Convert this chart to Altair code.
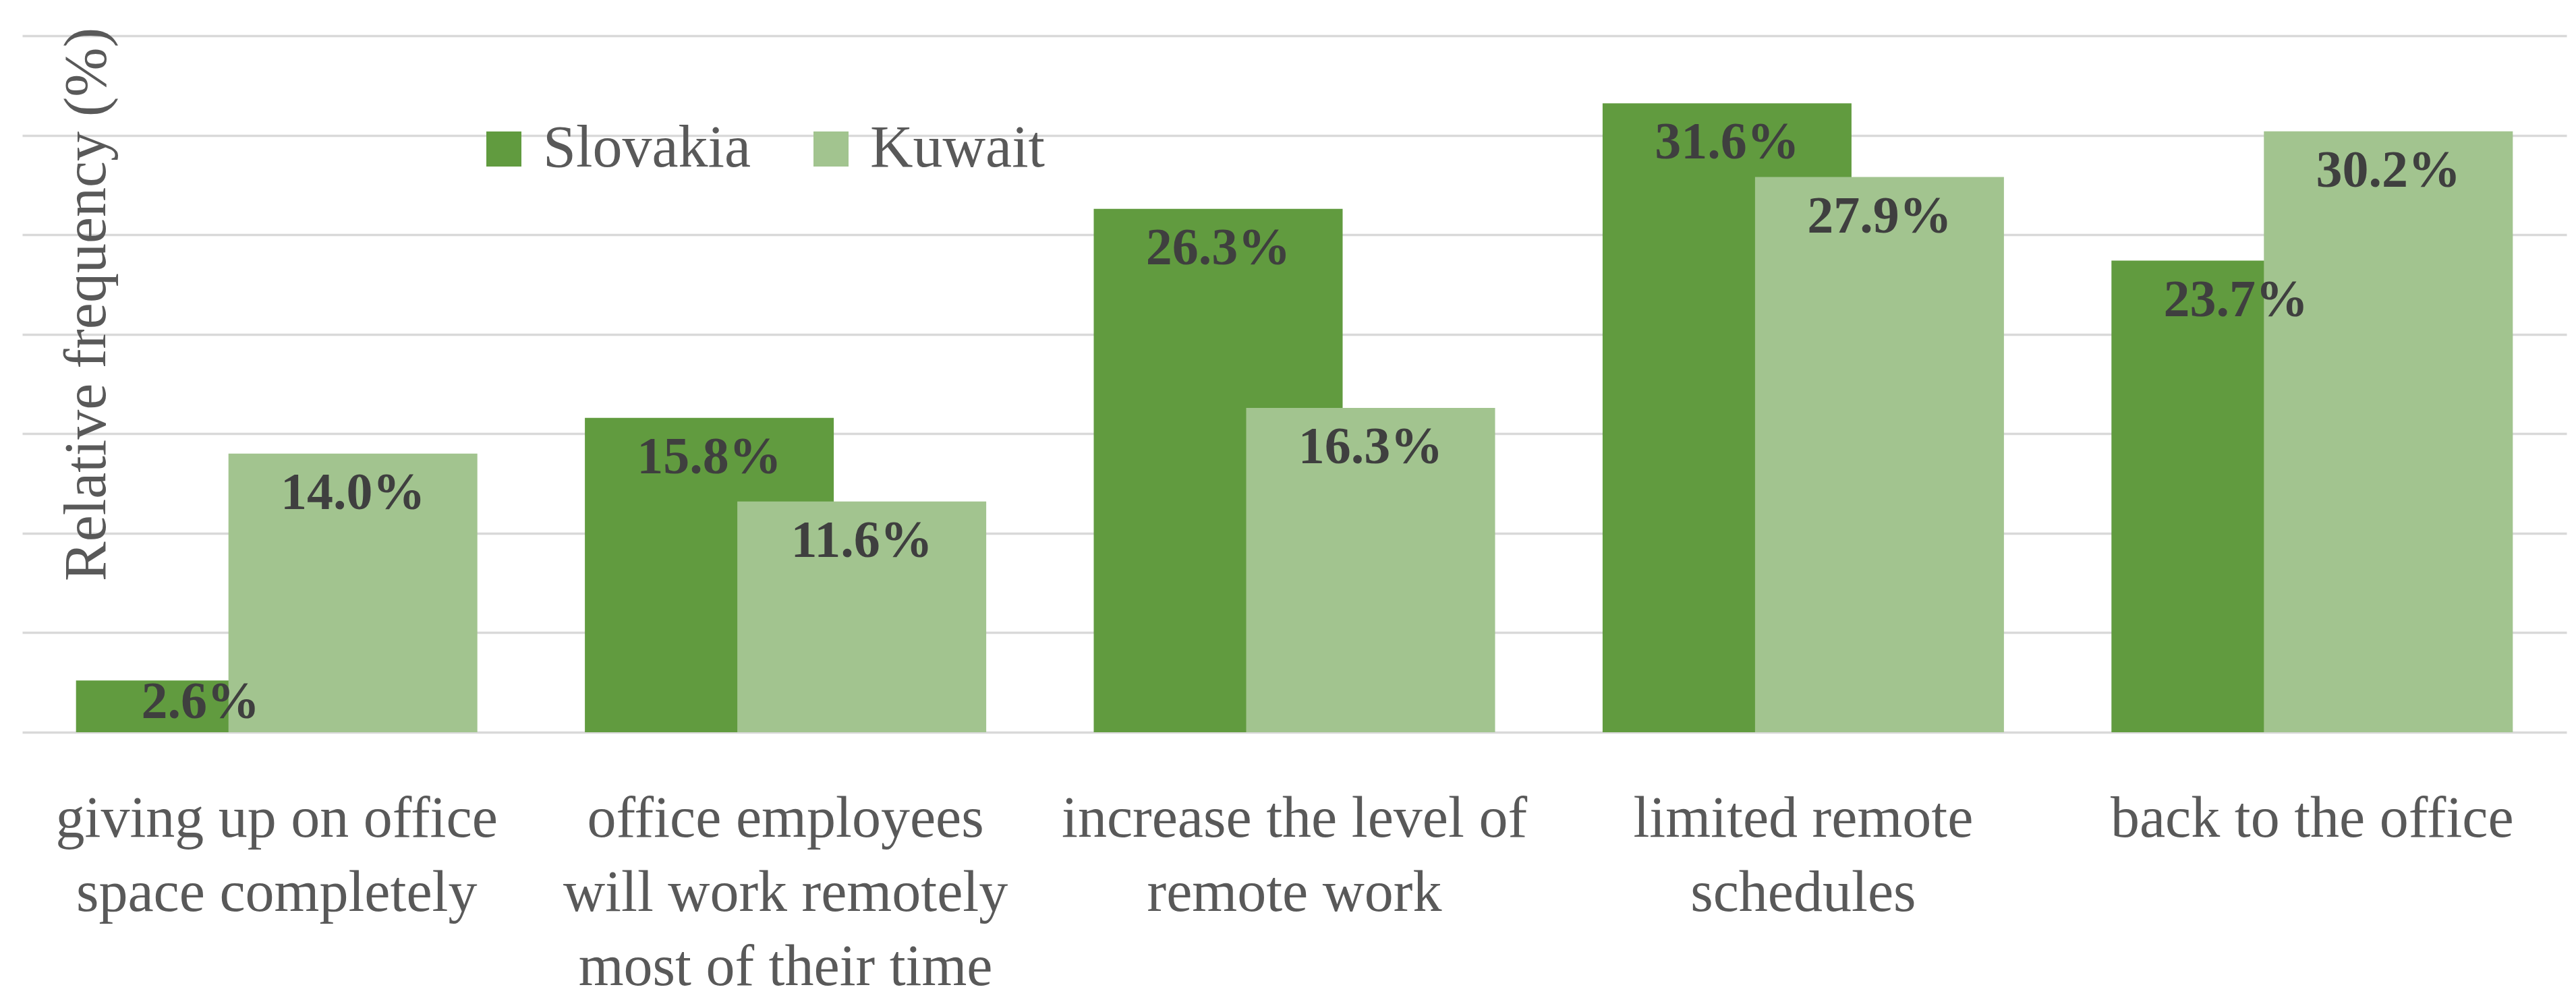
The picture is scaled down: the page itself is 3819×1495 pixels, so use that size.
import json
import altair as alt
import pandas as pd

categories = [
    "giving up on office space completely",
    "office employees will work remotely most of their time",
    "increase the level of remote work",
    "limited remote schedules",
    "back to the office",
]
label_lines = [
    ["giving up on office", "space completely"],
    ["office employees", "will work remotely", "most of their time"],
    ["increase the level of", "remote work"],
    ["limited remote", "schedules"],
    ["back to the office"],
]
series = ["Slovakia", "Kuwait"]
slovakia = [2.6, 15.8, 26.3, 31.6, 23.7]
kuwait = [14.0, 11.6, 16.3, 27.9, 30.2]
y_ticks = [0, 5, 10, 15, 20, 25, 30, 35]

rows = []
for c, s, k in zip(categories, slovakia, kuwait):
    rows.append({"category": c, "series": "Slovakia", "value": s})
    rows.append({"category": c, "series": "Kuwait", "value": k})
df = pd.DataFrame(rows)

FONT = "Liberation Serif"
DARK = "#619B3F"
LIGHT = "#A2C48F"
BAR_W = 369
OFF = 113

label_map = json.dumps(dict(zip(categories, label_lines)))

x_enc = alt.X(
    "category:N",
    sort=categories,
    scale=alt.Scale(paddingInner=0, paddingOuter=0),
    axis=alt.Axis(
        title=None,
        labelAngle=0,
        domain=False,
        ticks=False,
        labelPadding=86,
        labelFont=FONT,
        labelFontSize=86,
        labelColor="#595959",
        labelLineHeight=110,
        labelLimit=0,
        labelExpr=f"{label_map}[datum.label]",
    ),
)
y_scale = alt.Scale(domain=[0, 35], nice=False)
y_enc = alt.Y(
    "value:Q",
    scale=y_scale,
    axis=alt.Axis(
        title="Relative frequency (%)",
        values=y_ticks,
        labels=False,
        ticks=False,
        domain=False,
        grid=True,
        gridColor="#D9D9D9",
        gridWidth=3.5,
        titleFont=FONT,
        titleFontSize=88,
        titleFontWeight="normal",
        titleColor="#595959",
        titleX=122,
        titleY=398,
        titleAngle=-90,
        titleAlign="center",
        titleBaseline="alphabetic",
    ),
)
color_enc = alt.Color(
    "series:N",
    scale=alt.Scale(domain=series, range=[DARK, LIGHT]),
    legend=alt.Legend(
        title=None,
        orient="none",
        direction="horizontal",
        legendX=670,
        legendY=124,
        symbolType="square",
        symbolSize=52 * 52,
        symbolStrokeWidth=0,
        labelFont=FONT,
        labelFontSize=88,
        labelColor="#595959",
        labelOffset=14,
        labelLimit=1000,
        columnPadding=75,
        padding=0,
    ),
)

base = alt.Chart(df)

bars_s = base.transform_filter("datum.series == 'Slovakia'").mark_bar(
    width=BAR_W, xOffset=-OFF
).encode(x=x_enc, y=y_enc, color=color_enc)
bars_k = base.transform_filter("datum.series == 'Kuwait'").mark_bar(
    width=BAR_W, xOffset=OFF
).encode(x=x_enc, y=alt.Y("value:Q", scale=y_scale), color=color_enc)

def labels(name, off):
    return (
        base.transform_filter(f"datum.series == '{name}'")
        .transform_calculate(
            label_y="max(datum.value - 2, 1.5)",
            txt="format(datum.value, '.1f') + '%'",
        )
        .mark_text(
            xOffset=off,
            font=FONT,
            fontSize=78,
            fontWeight="bold",
            color="#3F3F3F",
            baseline="middle",
            align="center",
        )
        .encode(
            x=alt.X("category:N", sort=categories),
            y=alt.Y("label_y:Q", scale=y_scale),
            text="txt:N",
        )
    )

chart = (
    alt.layer(bars_s, bars_k, labels("Slovakia", -OFF), labels("Kuwait", OFF))
    .properties(
        width=3772,
        height=1033,
        autosize=alt.AutoSizeParams(type="none"),
        padding={"left": 25, "top": 45, "right": 6, "bottom": 400},
        background="white",
    )
    .configure_view(stroke=None)
)

chart.save("out.html", embed_options={"renderer": "svg", "actions": False})
